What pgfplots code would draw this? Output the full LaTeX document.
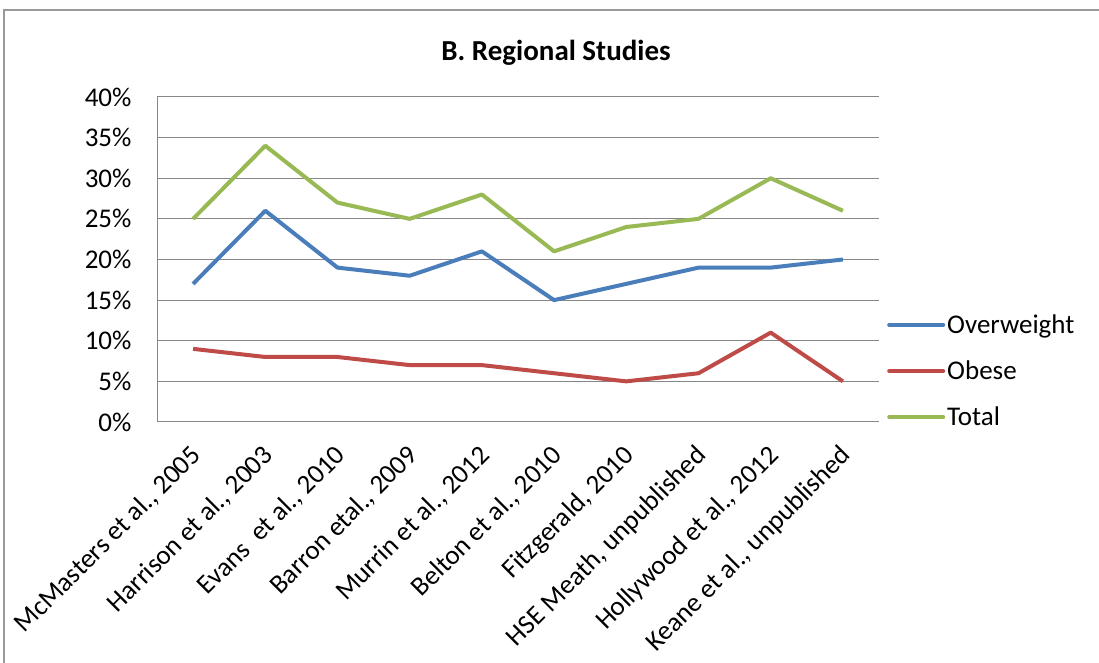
\documentclass[border=0pt]{standalone}
\usepackage{pgfplots}
\pgfplotsset{compat=1.18}
\usepackage{fontspec}
\setmainfont{Carlito}
\definecolor{cblue}{HTML}{4A7EBB}
\definecolor{cred}{HTML}{BE4B48}
\definecolor{cgreen}{HTML}{98B954}
\definecolor{cgrid}{HTML}{878787}
\begin{document}
\begin{tikzpicture}[x=1bp,y=1bp]
\useasboundingbox (0,0) rectangle (1099,663);
\fill[white] (0,0) rectangle (1099,663);
\draw[line width=2.5bp, color=gray!80] (4,-20) -- (4,653) -- (1120,653);
\begin{axis}[
  at={(157bp,241bp)}, anchor=south west,
  scale only axis, width=722bp, height=325bp,
  xmin=-0.5, xmax=9.5, ymin=0, ymax=40,
  axis line style={cgrid, line width=1bp},
  axis x line*=bottom, axis y line*=left,
  ytick={0,5,...,40},
  ymajorgrids, grid style={cgrid, line width=1bp},
  major tick length=0pt,
  xtick=data,
  xticklabels={{McMasters et al., 2005},{Harrison et al., 2003},{Evans\ \ et al., 2010},{Barron etal., 2009},{Murrin et al., 2012},{Belton et al., 2010},{Fitzgerald, 2010},{HSE Meath, unpublished},{Hollywood et al., 2012},{Keane et al.,\ unpublished}},
  xticklabel style={rotate=45, anchor=north east, font=\fontsize{27bp}{32bp}\selectfont, inner sep=2bp, xshift=-16bp, yshift=-10bp},
  yticklabel={\pgfmathprintnumber{\tick}\%},
  yticklabel style={font=\fontsize{27bp}{32bp}\selectfont, xshift=-22bp},
  /pgf/number format/assume math mode=true,
  title={\textbf{B. Regional Studies}},
  title style={font=\fontsize{29bp}{34bp}\selectfont, at={(0.5,1)}, anchor=south, yshift=22bp, xshift=38bp},
  clip=false,
  legend style={draw=none, fill=none, at={(1,0.157)}, anchor=west, xshift=8bp,
    font=\fontsize{27bp}{32bp}\selectfont, row sep=22bp, inner sep=0pt},
  legend cell align=left,
  legend image code/.code={\draw[#1, line width=4bp, line cap=round] (0bp,0bp) -- (54bp,0bp);},
  every axis plot/.append style={line width=4bp, line join=round, mark=none},
]
\addplot[cblue] coordinates {(0,17) (1,26) (2,19) (3,18) (4,21) (5,15) (6,17) (7,19) (8,19) (9,20)};
\addlegendentry{Overweight}
\addplot[cred] coordinates {(0,9) (1,8) (2,8) (3,7) (4,7) (5,6) (6,5) (7,6) (8,11) (9,5)};
\addlegendentry{Obese}
\addplot[cgreen] coordinates {(0,25) (1,34) (2,27) (3,25) (4,28) (5,21) (6,24) (7,25) (8,30) (9,26)};
\addlegendentry{Total}
\end{axis}
\end{tikzpicture}
\end{document}
